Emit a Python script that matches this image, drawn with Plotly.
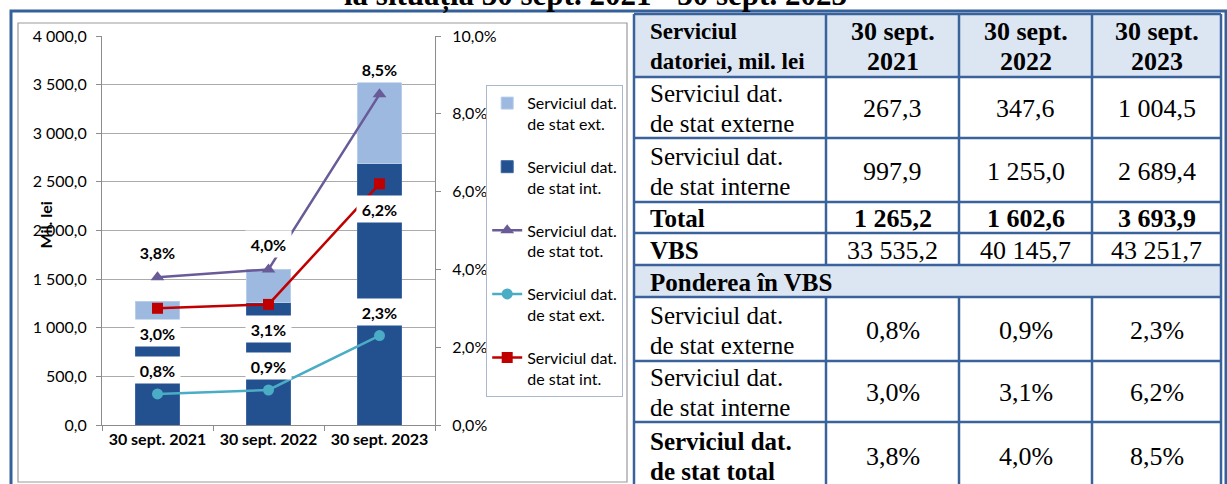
import plotly.graph_objects as go

# data
categories = ["30 sept. 2021", "30 sept. 2022", "30 sept. 2023"]
ext_mil = [267.3, 347.6, 1004.5]
int_mil = [997.9, 1255.0, 2689.4]
total_mil = [1265.2, 1602.6, 3693.9]
vbs_mil = [33535.2, 40145.7, 43251.7]
ext_pct = [0.8, 0.9, 2.3]
int_pct = [3.0, 3.1, 6.2]
tot_pct = [3.8, 4.0, 8.5]

W, H = 1227, 484
# plot area in pixels
PL, PR, PT, PB = 102, 435, 36, 425


def xp(px):
    return (px - PL) / (PR - PL)


def yp(py):
    return (PB - py) / (PB - PT)


def num(v):
    return f"{v:,.1f}".replace(",", " ").replace(".", ",")


def pct(v):
    return f"{v:.1f}%".replace(".", ",")


CHART_FONT = "Lato"
TABLE_FONT = "Liberation Serif"
DARK = "#23508f"
LIGHT = "#9db9e0"
PURPLE = "#695a98"
RED = "#c00000"
TEAL = "#4bacc6"
TBL_LINE = "#3a629b"
TBL_FILL = "#dce6f2"

fig = go.Figure()

fig.add_trace(go.Bar(x=categories, y=int_mil, name="Serviciul dat.<br>de stat int.",
                     marker=dict(color=DARK, line=dict(color="#3a66a6", width=1)),
                     width=0.405, legendgroup="b", legendrank=2))
fig.add_trace(go.Bar(x=categories, y=ext_mil, name="Serviciul dat.<br>de stat ext.",
                     marker=dict(color=LIGHT, line=dict(color="#b8cdea", width=1)),
                     width=0.405, legendgroup="a", legendrank=1))
fig.add_trace(go.Scatter(x=categories, y=tot_pct, yaxis="y2", mode="lines+markers",
                         name="Serviciul dat.<br>de stat tot.",
                         line=dict(color=PURPLE, width=2.5),
                         marker=dict(symbol="triangle-up", size=12, color=PURPLE),
                         legendgroup="c", legendrank=3))
fig.add_trace(go.Scatter(x=categories, y=ext_pct, yaxis="y2", mode="lines+markers",
                         name="Serviciul dat.<br>de stat ext.",
                         line=dict(color=TEAL, width=2.5),
                         marker=dict(symbol="circle", size=11, color=TEAL),
                         legendgroup="d", legendrank=4))
fig.add_trace(go.Scatter(x=categories, y=int_pct, yaxis="y2", mode="lines+markers",
                         name="Serviciul dat.<br>de stat int.",
                         line=dict(color=RED, width=2.5),
                         marker=dict(symbol="square", size=11, color=RED),
                         legendgroup="e", legendrank=5))

annotations = []

# data labels of the percentage lines, white boxes as wide as the bars
for series, shift in [(tot_pct, 25), (int_pct, -25), (ext_pct, 24)]:
    for cat, v in zip(categories, series):
        annotations.append(dict(x=cat, y=v, xref="x", yref="y2", yshift=shift,
                                text=f"<b>{pct(v)}</b>", showarrow=False,
                                bgcolor="white", width=41, height=22, borderpad=2,
                                font=dict(family=CHART_FONT, size=16, color="black")))

annotations.append(dict(x=xp(33), y=yp(225), xref="paper", yref="paper", text="<b>Mil. lei</b>",
                        textangle=-90, showarrow=False,
                        font=dict(family=CHART_FONT, size=16, color="black")))

# title of the page, cut by the top edge as in the source
annotations.append(dict(x=xp(595), y=yp(15), xref="paper", yref="paper",
                        xanchor="center", yanchor="bottom",
                        text="<b>la situația 30 sept. 2021 - 30 sept. 2023</b>", showarrow=False,
                        font=dict(family=TABLE_FONT, size=31, color="black")))

shapes = []
# outer frame and chart border
shapes.append(dict(type="rect", xref="paper", yref="paper", x0=xp(11), x1=xp(1226), y0=yp(11), y1=yp(495),
                   line=dict(color="#35619a", width=3)))
shapes.append(dict(type="rect", xref="paper", yref="paper", x0=xp(18), x1=xp(627), y0=yp(23), y1=yp(482),
                   line=dict(color="#9a9a9a", width=1.2)))

# table
col_edges = [634, 826, 959, 1092, 1221]
row_edges = [14, 77, 138, 202, 233, 265, 297, 361, 422, 488]
header_label = ["Serviciul", "datoriei, mil. lei"]
table_rows = [
    (["Serviciul dat.", "de stat externe"], [num(v) for v in ext_mil], False, False),
    (["Serviciul dat.", "de stat interne"], [num(v) for v in int_mil], False, False),
    (["Total"], [num(v) for v in total_mil], True, True),
    (["VBS"], [num(v) for v in vbs_mil], True, False),
    (["Ponderea în VBS"], None, True, False),
    (["Serviciul dat.", "de stat externe"], [pct(v) for v in ext_pct], False, False),
    (["Serviciul dat.", "de stat interne"], [pct(v) for v in int_pct], False, False),
    (["Serviciul dat.", "de stat total"], [pct(v) for v in tot_pct], True, False),
]

for r0, r1 in [(row_edges[0], row_edges[1]), (row_edges[5], row_edges[6])]:
    shapes.append(dict(type="rect", xref="paper", yref="paper", x0=xp(col_edges[0]), x1=xp(col_edges[-1]),
                       y0=yp(r0), y1=yp(r1), fillcolor=TBL_FILL, line=dict(width=0), layer="below"))


def tline(x0, y0, x1, y1):
    shapes.append(dict(type="line", xref="paper", yref="paper", x0=xp(x0), x1=xp(x1), y0=yp(y0), y1=yp(y1),
                       line=dict(color=TBL_LINE, width=2.5)))


for ry in row_edges:
    tline(col_edges[0], ry, col_edges[-1], ry)
for i, cx in enumerate(col_edges):
    if i in (0, len(col_edges) - 1):
        tline(cx, row_edges[0], cx, row_edges[-1])
    else:
        tline(cx, row_edges[0], cx, row_edges[5])
        tline(cx, row_edges[6], cx, row_edges[-1])


def cell_text(lines, x, yc, size, bold, align):
    gap = 30
    start = yc - gap * (len(lines) - 1) / 2
    for k, t in enumerate(lines):
        annotations.append(dict(x=xp(x), y=yp(start + gap * k), xref="paper", yref="paper",
                                xanchor=align, yanchor="middle", showarrow=False,
                                text=f"<b>{t}</b>" if bold else t,
                                font=dict(family=TABLE_FONT, size=size, color="black")))


hc = (row_edges[0] + row_edges[1]) / 2 + 1
cell_text(header_label, 648, hc, 23, True, "left")
for j, cat in enumerate(categories):
    d, y = cat.rsplit(" ", 1)
    cell_text([d, y], (col_edges[j + 1] + col_edges[j + 2]) / 2, hc, 26, True, "center")

for i, (label, vals, lbold, vbold) in enumerate(table_rows):
    yc = (row_edges[i + 1] + row_edges[i + 2]) / 2 + 1
    cell_text(label, 648, yc, 25, lbold, "left")
    if vals:
        for j, v in enumerate(vals):
            cell_text([v], (col_edges[j + 1] + col_edges[j + 2]) / 2, yc, 26, vbold, "center")

fig.update_layout(
    width=W, height=H,
    margin=dict(l=PL, r=W - PR, t=PT, b=H - PB),
    paper_bgcolor="white", plot_bgcolor="white",
    separators=", ",
    barmode="stack",
    bargap=0.595,
    showlegend=True,
    legend=dict(x=xp(486), y=yp(85), xanchor="left", yanchor="top",
                bordercolor="#a9b8cc", borderwidth=1.2, bgcolor="white",
                traceorder="grouped", tracegroupgap=19, valign="top",
                font=dict(family=CHART_FONT, size=16, color="black"), itemwidth=30),
    xaxis=dict(showline=True, linecolor="#8c8c8c", ticks="outside", tickson="boundaries",
               ticklen=5, tickcolor="#8c8c8c", showgrid=False,
               tickfont=dict(family=CHART_FONT, size=16, color="black", weight="bold")),
    yaxis=dict(range=[0, 4000], dtick=500, tickformat=",.1f", showline=True, linecolor="#8c8c8c",
               ticks="outside", ticklen=5, tickcolor="#8c8c8c", gridcolor="#ababab", gridwidth=1,
               zeroline=False, ticklabelstandoff=6,
               tickfont=dict(family=CHART_FONT, size=16, color="black")),
    yaxis2=dict(range=[0, 10], dtick=2, tickformat=".1f", ticksuffix="%", overlaying="y", side="right",
                showline=True, linecolor="#8c8c8c", ticks="outside", ticklen=5, tickcolor="#8c8c8c",
                showgrid=False, zeroline=False, ticklabelstandoff=8,
                tickfont=dict(family=CHART_FONT, size=16, color="black")),
    annotations=annotations,
    shapes=shapes,
)

# the page keeps no body margin so the figure fills the window
fig.write_html("out.html", config={"displayModeBar": False},
               post_script="document.body.style.margin='0';")
